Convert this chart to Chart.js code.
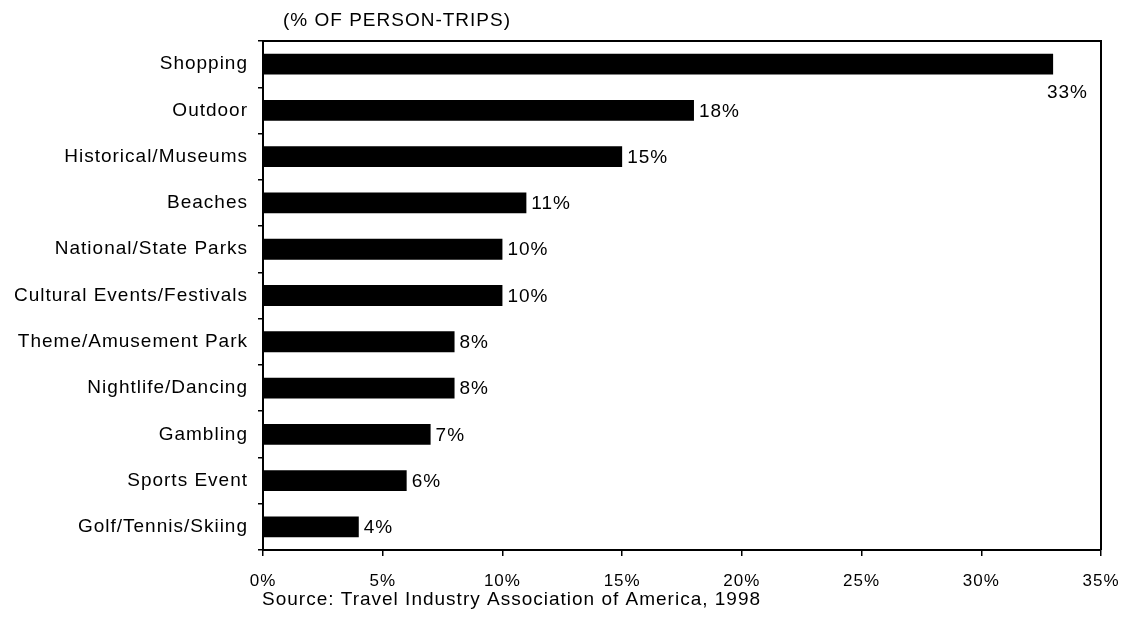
<!DOCTYPE html>
<html>
<head>
<meta charset="utf-8">
<script src="https://cdn.jsdelivr.net/npm/chart.js@4"></script>
<style>
  body { margin: 0; background: #fff; }
  #wrap { width: 1125px; height: 620px; }
</style>
</head>
<body>
<div id="wrap"><canvas id="chart" width="1125" height="620"></canvas></div>
<script>
// Chart data
const categories = [
    'Shopping', 'Outdoor', 'Historical/Museums', 'Beaches', 'National/State Parks',
    'Cultural Events/Festivals', 'Theme/Amusement Park', 'Nightlife/Dancing',
    'Gambling', 'Sports Event', 'Golf/Tennis/Skiing'
];
const values = [33, 18, 15, 11, 10, 10, 8, 8, 7, 6, 4];
const xTickValues = [0, 5, 10, 15, 20, 25, 30, 35];
const titleText = '(% OF PERSON-TRIPS)';
const sourceText = 'Source: Travel Industry Association of America, 1998';

const FONT = '"Liberation Sans", Arial, sans-serif';

// The original lettering is loose and wide, so spread all canvas text a little
const wideText = {
    id: 'wideText',
    beforeInit(chart) { chart.ctx.letterSpacing = '1px'; },
    beforeLayout(chart) { chart.ctx.letterSpacing = '1px'; }
};

// Frame, value labels, title and source line
const annotations = {
    id: 'annotations',
    afterDatasetsDraw(chart) {
        const ctx = chart.ctx;
        const area = chart.chartArea;
        ctx.save();

        // top and right frame lines
        ctx.strokeStyle = '#000';
        ctx.lineWidth = 2;
        ctx.beginPath();
        ctx.moveTo(area.left, area.top);
        ctx.lineTo(area.right, area.top);
        ctx.lineTo(area.right, area.bottom);
        ctx.stroke();

        // value labels (the one that won't fit goes under the bar end)
        ctx.fillStyle = '#000';
        ctx.font = '19px ' + FONT;
        ctx.textBaseline = 'middle';
        chart.getDatasetMeta(0).data.forEach((bar, i) => {
            const text = values[i] + '%';
            const w = ctx.measureText(text).width;
            if (bar.x + 6 + w > area.right - 15) {
                ctx.textAlign = 'right';
                ctx.fillText(text, area.right - 13, bar.y + 29);
            } else {
                ctx.textAlign = 'left';
                ctx.fillText(text, bar.x + 5, bar.y + 1);
            }
        });

        // title above plot
        ctx.font = '19px ' + FONT;
        ctx.textAlign = 'left';
        ctx.fillText(titleText, area.left + 20, 21);

        // source below axis
        ctx.fillText(sourceText, area.left - 1, 600);
        ctx.restore();
    }
};

new Chart(document.getElementById('chart'), {
    type: 'bar',
    data: {
        labels: categories,
        datasets: [{
            data: values,
            backgroundColor: '#000',
            borderWidth: 0,
            barPercentage: 0.45,
            categoryPercentage: 1
        }]
    },
    options: {
        indexAxis: 'y',
        responsive: false,
        animation: false,
        events: [],
        layout: { padding: { top: 41, right: 24, bottom: 0, left: 0 } },
        plugins: {
            legend: { display: false },
            tooltip: { enabled: false }
        },
        scales: {
            x: {
                min: 0,
                max: 35,
                afterBuildTicks(scale) {
                    scale.ticks = xTickValues.map(v => ({ value: v }));
                },
                afterFit(scale) {
                    scale.height = 70;
                    scale.paddingLeft = 0;
                    scale.paddingRight = 0;
                },
                grid: { drawOnChartArea: false, color: '#000', tickLength: 6, lineWidth: 1.5 },
                border: { color: '#000', width: 2 },
                ticks: {
                    color: '#000',
                    padding: 15,
                    maxRotation: 0,
                    font: { family: FONT, size: 17 },
                    callback: v => v + '%'
                }
            },
            y: {
                afterFit(scale) { scale.width = 263; },
                grid: { drawOnChartArea: false, color: '#000', tickLength: 5, lineWidth: 1.5, offset: true },
                border: { color: '#000', width: 2 },
                ticks: {
                    color: '#000',
                    padding: 10,
                    font: { family: FONT, size: 19 }
                }
            }
        }
    },
    plugins: [wideText, annotations]
});
</script>
</body>
</html>
